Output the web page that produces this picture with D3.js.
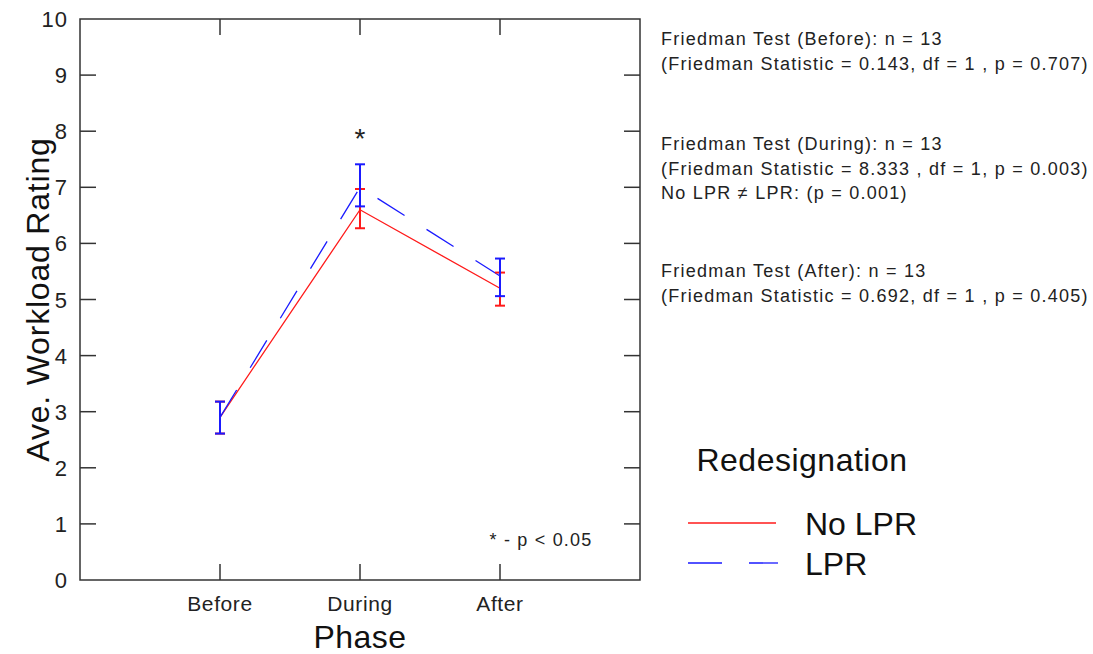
<!DOCTYPE html>
<html>
<head>
<meta charset="utf-8">
<script src="https://cdn.jsdelivr.net/npm/d3@7/dist/d3.min.js"></script>
<style>
  body { margin: 0; background: #fff; }
  svg { display: block; }
</style>
</head>
<body>
<svg id="chart" width="1093" height="654"></svg>
<script>
// DATA
const phases = ["Before", "During", "After"];
const noLprMean = [2.9, 6.6, 5.2];
const noLprLo = [2.61, 6.27, 4.89];
const noLprHi = [3.18, 6.97, 5.48];
const lprMean = [2.9, 7.0, 5.42];
const lprLo = [2.61, 6.66, 5.06];
const lprHi = [3.18, 7.41, 5.73];
const yTicks = [0, 1, 2, 3, 4, 5, 6, 7, 8, 9, 10];

const statLines = [
  ["Friedman Test (Before): n = 13", "(Friedman Statistic = 0.143, df = 1 , p = 0.707)"],
  ["Friedman Test (During): n = 13", "(Friedman Statistic = 8.333 , df = 1, p = 0.003)", "No LPR \u2260 LPR: (p = 0.001)"],
  ["Friedman Test (After): n = 13", "(Friedman Statistic = 0.692, df = 1 , p = 0.405)"]
];

const svg = d3.select("#chart");
const font = "Liberation Sans, Arial, sans-serif";
const axisCol = "#333";

// SCALES
const pLeft = 80, pRight = 640, pTop = 19, pBottom = 580;
const x = d3.scalePoint().domain(["", ...phases, " "]).range([pLeft, pRight]);
const y = d3.scaleLinear().domain([0, 10]).range([pBottom, pTop]);
const tickLen = 16;

// frame
svg.append("rect")
  .attr("x", pLeft).attr("y", pTop)
  .attr("width", pRight - pLeft).attr("height", pBottom - pTop)
  .attr("fill", "none").attr("stroke", axisCol).attr("stroke-width", 1.5);

// y ticks (left & right, inward)
yTicks.forEach(t => {
  if (t === 0 || t === 10) return;
  svg.append("line").attr("x1", pLeft).attr("x2", pLeft + tickLen)
    .attr("y1", y(t)).attr("y2", y(t)).attr("stroke", axisCol).attr("stroke-width", 1.5);
  svg.append("line").attr("x1", pRight).attr("x2", pRight - tickLen)
    .attr("y1", y(t)).attr("y2", y(t)).attr("stroke", axisCol).attr("stroke-width", 1.5);
});
yTicks.forEach(t => {
  svg.append("text").attr("x", 68).attr("y", y(t) + 8)
    .attr("text-anchor", "end").attr("font-family", font).attr("font-size", 22)
    .attr("letter-spacing", 1).attr("fill", "#222").text(t);
});

// x ticks (bottom & top, inward)
phases.forEach(p => {
  svg.append("line").attr("x1", x(p)).attr("x2", x(p))
    .attr("y1", pBottom).attr("y2", pBottom - tickLen).attr("stroke", axisCol).attr("stroke-width", 1.5);
  svg.append("line").attr("x1", x(p)).attr("x2", x(p))
    .attr("y1", pTop).attr("y2", pTop + tickLen).attr("stroke", axisCol).attr("stroke-width", 1.5);
  svg.append("text").attr("x", x(p)).attr("y", 611)
    .attr("text-anchor", "middle").attr("font-family", font).attr("font-size", 21)
    .attr("letter-spacing", 0.6).attr("fill", "#222").text(p);
});

// axis titles
svg.append("text").attr("x", 360).attr("y", 648)
  .attr("text-anchor", "middle").attr("font-family", font).attr("font-size", 32)
  .attr("letter-spacing", 0.5).attr("fill", "#111").text("Phase");
svg.append("text")
  .attr("transform", `translate(49,${(pTop + pBottom) / 2}) rotate(-90)`)
  .attr("text-anchor", "middle").attr("font-family", font).attr("font-size", 32)
  .attr("letter-spacing", 0.8).attr("fill", "#111").text("Ave. Workload Rating");

// lines
const line = d3.line().x((d, i) => x(phases[i])).y(d => y(d));
svg.append("path").datum(noLprMean).attr("d", line)
  .attr("fill", "none").attr("stroke", "#ff1a1a").attr("stroke-width", 1.3);
svg.append("path").datum(lprMean).attr("d", line)
  .attr("fill", "none").attr("stroke", "#1a1aff").attr("stroke-width", 1.3)
  .attr("stroke-dasharray", "32,26");

// error bars
function errBars(lo, hi, col, w) {
  phases.forEach((p, i) => {
    const cx = x(p);
    svg.append("line").attr("x1", cx).attr("x2", cx)
      .attr("y1", y(lo[i])).attr("y2", y(hi[i])).attr("stroke", col).attr("stroke-width", w);
    [lo[i], hi[i]].forEach(v => {
      svg.append("line").attr("x1", cx - 5).attr("x2", cx + 5)
        .attr("y1", y(v)).attr("y2", y(v)).attr("stroke", col).attr("stroke-width", 2);
    });
  });
}
errBars(noLprLo, noLprHi, "#ff1a1a", 2);
errBars(lprLo, lprHi, "#1a1aff", 2);

// significance
svg.append("text").attr("x", x("During")).attr("y", 148)
  .attr("text-anchor", "middle").attr("font-family", font).attr("font-size", 28)
  .attr("fill", "#222").text("*");
svg.append("text").attr("x", 541).attr("y", 546)
  .attr("text-anchor", "middle").attr("font-family", font).attr("font-size", 18)
  .attr("letter-spacing", 1.2).attr("fill", "#222").text("* - p < 0.05");

// stats
const blockY = [45, 150, 277];
statLines.forEach((block, b) => {
  block.forEach((s, j) => {
    svg.append("text").attr("x", 661).attr("y", blockY[b] + j * 24.5)
      .attr("font-family", font).attr("font-size", 18)
      .attr("letter-spacing", 1.25).attr("fill", "#222").text(s);
  });
});

// legend
svg.append("text").attr("x", 802).attr("y", 471)
  .attr("text-anchor", "middle").attr("font-family", font).attr("font-size", 32)
  .attr("letter-spacing", 0.5).attr("fill", "#111").text("Redesignation");
svg.append("line").attr("x1", 688).attr("x2", 776).attr("y1", 523).attr("y2", 523)
  .attr("stroke", "#ff1a1a").attr("stroke-width", 1.3);
svg.append("line").attr("x1", 688).attr("x2", 778).attr("y1", 563).attr("y2", 563)
  .attr("stroke", "#1a1aff").attr("stroke-width", 1.3).attr("stroke-dasharray", "34,27");
svg.append("text").attr("x", 805).attr("y", 535)
  .attr("font-family", font).attr("font-size", 32).attr("fill", "#111").text("No LPR");
svg.append("text").attr("x", 805).attr("y", 575)
  .attr("font-family", font).attr("font-size", 32).attr("fill", "#111").text("LPR");
</script>
</body>
</html>
